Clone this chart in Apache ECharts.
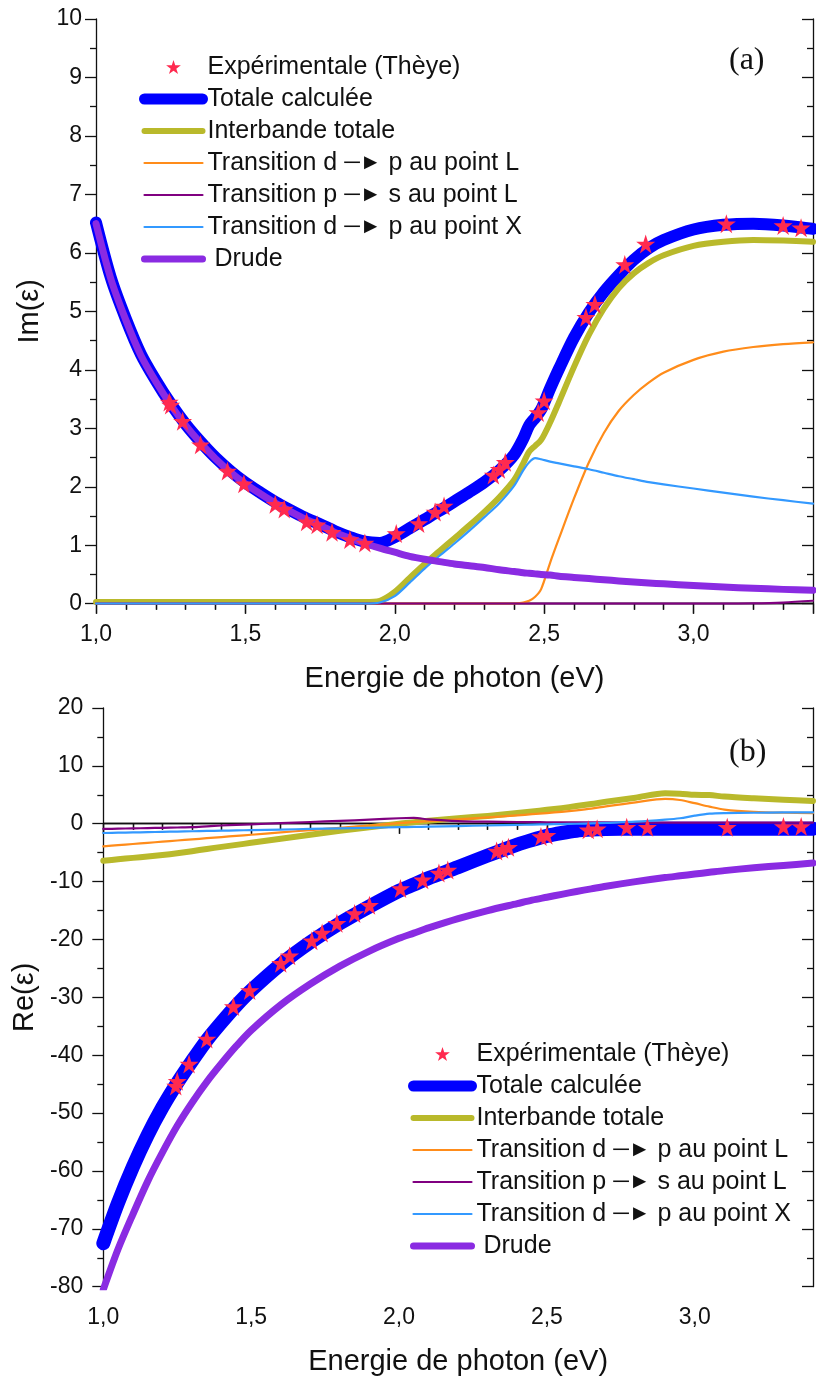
<!DOCTYPE html>
<html><head><meta charset="utf-8">
<script src="https://cdn.jsdelivr.net/npm/echarts@6/dist/echarts.min.js"></script>
<style>html,body{margin:0;padding:0;background:#fff}#c{width:816px;height:1378px}</style>
</head><body><div id="c"></div><script>
// ---------- Panel (a): Im(eps) ----------
const E_IM = [1.00,1.05,1.10,1.15,1.20,1.25,1.30,1.35,1.40,1.45,1.50,1.55,1.60,1.65,1.70,1.75,1.80,1.85,1.90,1.95,2.00,2.05,2.10,2.15,2.20,2.25,2.30,2.35,2.40,2.43,2.45,2.47,2.49,2.52,2.55,2.60,2.65,2.70,2.75,2.80,2.85,2.90,3.00,3.10,3.20,3.30,3.40];
const IM_TOTAL = [6.52,5.57,4.87,4.27,3.82,3.42,3.07,2.77,2.50,2.27,2.07,1.90,1.74,1.60,1.47,1.36,1.24,1.14,1.06,1.04,1.14,1.29,1.44,1.59,1.75,1.91,2.08,2.28,2.55,2.82,3.05,3.18,3.32,3.68,4.02,4.55,4.98,5.33,5.62,5.88,6.08,6.22,6.40,6.48,6.50,6.47,6.41];
const IM_INTER = [0.03,0.03,0.03,0.03,0.03,0.03,0.03,0.03,0.03,0.03,0.03,0.03,0.03,0.03,0.03,0.03,0.03,0.03,0.03,0.05,0.20,0.44,0.68,0.90,1.12,1.34,1.57,1.82,2.12,2.40,2.60,2.70,2.80,3.10,3.45,4.05,4.60,5.05,5.40,5.65,5.83,5.96,6.12,6.19,6.22,6.21,6.19];
const IM_DL = [0,0,0,0,0,0,0,0,0,0,0,0,0,0,0,0,0,0,0,0,0,0,0,0,0,0,0,0,0.0,0.02,0.05,0.12,0.25,0.70,1.12,1.80,2.42,2.92,3.30,3.57,3.78,3.95,4.17,4.31,4.39,4.44,4.47];
const IM_PS = [0,0,0,0,0,0,0,0,0,0,0,0,0,0,0,0,0,0,0,0,0,0,0,0,0,0,0,0,0,0,0,0,0,0,0,0,0,0,0,0,0,0,0,0,0.005,0.02,0.05];
const IM_DX = [0,0,0,0,0,0,0,0,0,0,0,0,0,0,0,0,0,0,0,0.02,0.13,0.36,0.60,0.82,1.03,1.25,1.48,1.72,2.02,2.28,2.42,2.49,2.47,2.43,2.40,2.35,2.30,2.24,2.18,2.13,2.08,2.04,1.97,1.90,1.83,1.77,1.71];
const IM_DRUDE = [6.50,5.55,4.85,4.25,3.80,3.40,3.05,2.75,2.48,2.25,2.05,1.88,1.72,1.58,1.45,1.34,1.22,1.12,1.03,0.95,0.88,0.81,0.76,0.72,0.68,0.65,0.62,0.58,0.55,0.53,0.52,0.51,0.50,0.49,0.47,0.45,0.43,0.41,0.39,0.37,0.355,0.34,0.31,0.285,0.265,0.245,0.23];

// ---------- Experimental points (Thèye) ----------
const E_EXP = [1.245,1.25,1.29,1.35,1.44,1.495,1.60,1.63,1.705,1.74,1.79,1.85,1.90,2.005,2.08,2.135,2.165,2.33,2.35,2.37,2.48,2.50,2.64,2.67,2.77,2.84,3.11,3.30,3.36];
const IM_EXP = [3.45,3.40,3.12,2.72,2.27,2.05,1.70,1.62,1.40,1.35,1.22,1.10,1.04,1.20,1.37,1.57,1.67,2.20,2.30,2.42,3.27,3.47,4.90,5.12,5.80,6.15,6.50,6.47,6.43];
const RE_EXP = [-45.3,-44.5,-41.5,-37.2,-31.6,-28.8,-24.1,-22.8,-20.2,-18.9,-17.2,-15.5,-14.1,-11.2,-9.7,-8.5,-8.0,-4.7,-4.4,-4.05,-2.2,-2.0,-1.04,-0.87,-0.6,-0.6,-0.6,-0.47,-0.47];

// ---------- Panel (b): Re(eps) ----------
const E_RE = [1.00,1.05,1.10,1.15,1.20,1.25,1.30,1.35,1.40,1.45,1.50,1.60,1.70,1.80,1.90,2.00,2.05,2.10,2.20,2.30,2.40,2.45,2.50,2.55,2.60,2.65,2.70,2.80,2.90,2.95,3.00,3.05,3.10,3.20,3.30,3.40];
const RE_TOTAL = [-72.5,-65.5,-59.3,-53.8,-49.0,-44.8,-41.0,-37.4,-34.3,-31.4,-28.8,-24.3,-20.5,-17.2,-14.3,-11.6,-10.5,-9.4,-7.5,-5.5,-3.6,-2.8,-2.1,-1.6,-1.2,-1.0,-0.9,-0.85,-0.85,-0.85,-0.85,-0.85,-0.85,-0.85,-0.85,-0.85];
const RE_INTER = [-6.4,-6.15,-5.9,-5.65,-5.4,-5.1,-4.75,-4.35,-4.0,-3.65,-3.3,-2.6,-1.9,-1.2,-0.6,0.0,0.25,0.5,0.95,1.35,1.85,2.1,2.4,2.7,3.05,3.4,3.8,4.5,5.28,5.2,5.0,4.95,4.7,4.4,4.15,3.95];
const RE_DL = [-3.9,-3.7,-3.5,-3.3,-3.1,-2.9,-2.7,-2.5,-2.3,-2.1,-1.9,-1.5,-1.1,-0.7,-0.3,0.1,0.3,0.45,0.75,1.1,1.45,1.65,1.85,2.05,2.3,2.6,3.0,3.7,4.28,4.1,3.55,2.95,2.45,2.05,1.9,1.85];
const RE_PS = [-0.9,-0.85,-0.8,-0.75,-0.7,-0.65,-0.6,-0.45,-0.3,-0.2,-0.1,0.1,0.3,0.5,0.7,0.95,1.0,0.75,0.45,0.35,0.3,0.28,0.25,0.24,0.23,0.22,0.22,0.21,0.2,0.2,0.2,0.2,0.2,0.2,0.2,0.2];
const RE_DX = [-1.6,-1.55,-1.5,-1.45,-1.4,-1.35,-1.3,-1.25,-1.2,-1.15,-1.1,-1.0,-0.9,-0.8,-0.7,-0.6,-0.55,-0.5,-0.4,-0.3,-0.2,-0.15,-0.1,-0.05,0.0,0.05,0.15,0.35,0.7,0.95,1.4,1.75,1.85,1.9,1.95,1.95];
const RE_DRUDE = [-80.5,-73.5,-67.5,-61.8,-56.8,-52.2,-48.2,-44.6,-41.4,-38.4,-35.7,-31.3,-27.7,-24.6,-22.0,-19.8,-18.9,-18.0,-16.4,-15.0,-13.8,-13.2,-12.7,-12.2,-11.7,-11.25,-10.8,-10.0,-9.3,-9.0,-8.7,-8.4,-8.1,-7.6,-7.2,-6.8];

// ---------- Labels ----------
const X_TITLE = 'Energie de photon (eV)';
const Y_TITLE_A = 'Im(ε)';
const Y_TITLE_B = 'Re(ε)';
const N_EXP = 'Expérimentale (Thèye)';
const N_TOT = 'Totale calculée';
const N_INT = 'Interbande totale';
const N_DL = 'Transition d→p au point L';
const N_PS = 'Transition p→s au point L';
const N_DX = 'Transition d→p au point X';
const N_DRU = ' Drude';
const LEGEND_ORDER = [N_EXP, N_TOT, N_INT, N_DL, N_PS, N_DX, N_DRU];

const STAR = 'path://M50,0 L61.2,34.5 L97.6,34.5 L68.2,55.9 L79.4,90.5 L50,69.1 L20.6,90.5 L31.8,55.9 L2.4,34.5 L38.8,34.5 Z';
const C = {tot:'#0000FF', inter:'#B9B92B', dl:'#FF8C1A', ps:'#800080', dx:'#3399FF', dru:'#8A2BE2', exp:'#FF2A4F'};
const W = {tot:12, totRe:14, inter:6, thin:2.2, dru:7};
const FONT = 'Liberation Sans, Arial, sans-serif';

const pair = (xs, ys) => xs.map((x, i) => [x, ys[i]]);
const xFmt = v => (v > 3.25 ? '' : v.toFixed(1).replace('.', ','));

function lineSeries(name, xs, ys, color, width, idx) {
  return {type:'line', name, data: pair(xs, ys), xAxisIndex: idx, yAxisIndex: idx,
    symbol:'none', showSymbol:false, smooth:0.3,
    lineStyle:{color, width, cap:'round', join:'round'}, itemStyle:{color}, silent:true, clip:true};
}
function expSeries(xs, ys, idx) {
  return {type:'scatter', name:N_EXP, data: pair(xs, ys), xAxisIndex: idx, yAxisIndex: idx,
    symbol: STAR, symbolSize: 19, itemStyle:{color:C.exp, opacity:1}, z:5, silent:true};
}

const axisLine = {show:true, lineStyle:{color:'#111', width:1.3}};
function xAxes(gi) {
  return [
    {type:'value', gridIndex:gi, position:'bottom', min:1, max:3.4, interval:0.5,
     axisLine, axisTick:{show:true, inside:false, length:10, lineStyle:{color:'#111', width:1.3}},
     minorTick:{show:true, splitNumber:5, length:6, lineStyle:{color:'#111', width:1.3}},
     splitLine:{show:false}, minorSplitLine:{show:false},
     axisLabel:{formatter:xFmt, color:'#111', fontSize:23, fontFamily:FONT, margin:19},
     name:X_TITLE, nameLocation:'middle', nameGap:61, nameTextStyle:{color:'#111', fontSize:29, fontFamily:FONT}},
    {type:'value', gridIndex:gi, position:'top', min:1, max:3.4, interval:0.5,
     axisLine, axisTick:{show:true, inside:true, length:10, lineStyle:{color:'#111', width:1.3}},
     minorTick:{show:true, splitNumber:5, length:6, lineStyle:{color:'#111', width:1.3}},
     splitLine:{show:false}, axisLabel:{show:false}}
  ];
}
function yAxes(gi, min, max, interval, name, nameGap, labelMargin) {
  return [
    {type:'value', gridIndex:gi, position:'left', min, max, interval,
     axisLine, axisTick:{show:true, inside:false, length:11, lineStyle:{color:'#111', width:1.3}},
     minorTick:{show:true, splitNumber:2, length:6, lineStyle:{color:'#111', width:1.3}},
     splitLine:{show:false}, minorSplitLine:{show:false},
     axisLabel:{color:'#111', fontSize:23, fontFamily:FONT, margin:labelMargin},
     name, nameLocation:'middle', nameGap, nameTextStyle:{color:'#111', fontSize:29, fontFamily:FONT}},
    {type:'value', gridIndex:gi, position:'right', min, max, interval,
     axisLine, axisTick:{show:true, inside:true, length:11, lineStyle:{color:'#111', width:1.3}},
     minorTick:{show:true, splitNumber:2, length:6, lineStyle:{color:'#111', width:1.3}},
     splitLine:{show:false}, axisLabel:{show:false}}
  ];
}

const LEGEND_LINE = {};
LEGEND_LINE[N_TOT] = {color:C.tot, width:11};
LEGEND_LINE[N_INT] = {color:C.inter, width:W.inter};
LEGEND_LINE[N_DL] = {color:C.dl, width:W.thin};
LEGEND_LINE[N_PS] = {color:C.ps, width:W.thin};
LEGEND_LINE[N_DX] = {color:C.dx, width:W.thin};
LEGEND_LINE[N_DRU] = {color:C.dru, width:W.dru};

function legend(left, top) {
  return {show:true, orient:'vertical', left, top, itemWidth:58, itemHeight:14, itemGap:7,
    selectedMode:false,
    itemStyle:{opacity:0},
    data: LEGEND_ORDER.map(n => n === N_EXP
      ? {name:n, icon:STAR, itemStyle:{opacity:1, color:C.exp}}
      : {name:n, lineStyle:{color:LEGEND_LINE[n].color, width:LEGEND_LINE[n].width, cap:'round'}}),
    formatter: n => n.replace('→', ' {ar|─►} '),
    textStyle:{color:'#111', fontSize:25, fontFamily:FONT, lineHeight:25,
      rich:{ar:{fontSize:22, fontFamily:FONT, color:'#111', lineHeight:25}}}};
}

const chart = echarts.init(document.getElementById('c'), null, {renderer:'canvas'});
chart.setOption({
  animation:false,
  backgroundColor:'#fff',
  grid:[
    {left:96, top:19, width:726.5, height:584.7},
    {left:103.3, top:708, width:720, height:578.7}
  ],
  xAxis:[...xAxes(0), ...xAxes(1)],
  yAxis:[...yAxes(0, 0, 10, 1, Y_TITLE_A, 52, 14), ...yAxes(1, -80, 20, 10, Y_TITLE_B, 55, 20)],
  legend:[legend(134, 49.5), legend(403, 1036.5)],
  graphic:[
    {type:'text', left:729, top:45, style:{text:'(a)', fontSize:32, fontFamily:'Liberation Serif, Times New Roman, serif', fill:'#111'}},
    {type:'text', left:729, top:737, style:{text:'(b)', fontSize:32, fontFamily:'Liberation Serif, Times New Roman, serif', fill:'#111'}}
  ],
  series:[
    lineSeries(N_TOT, E_IM, IM_TOTAL, C.tot, W.tot, 0),
    lineSeries(N_INT, E_IM, IM_INTER, C.inter, W.inter, 0),
    lineSeries(N_DL, E_IM, IM_DL, C.dl, W.thin, 0),
    lineSeries(N_PS, E_IM, IM_PS, C.ps, W.thin, 0),
    lineSeries(N_DX, E_IM, IM_DX, C.dx, W.thin, 0),
    lineSeries(N_DRU, E_IM, IM_DRUDE, C.dru, W.dru, 0),
    expSeries(E_EXP, IM_EXP, 0),
    lineSeries(N_TOT, E_RE, RE_TOTAL, C.tot, W.totRe, 2),
    lineSeries(N_INT, E_RE, RE_INTER, C.inter, W.inter, 2),
    lineSeries(N_DL, E_RE, RE_DL, C.dl, W.thin, 2),
    lineSeries(N_PS, E_RE, RE_PS, C.ps, W.thin, 2),
    lineSeries(N_DX, E_RE, RE_DX, C.dx, W.thin, 2),
    lineSeries(N_DRU, E_RE, RE_DRUDE, C.dru, W.dru, 2),
    expSeries(E_EXP, RE_EXP, 2)
  ]
});
</script></body></html>
